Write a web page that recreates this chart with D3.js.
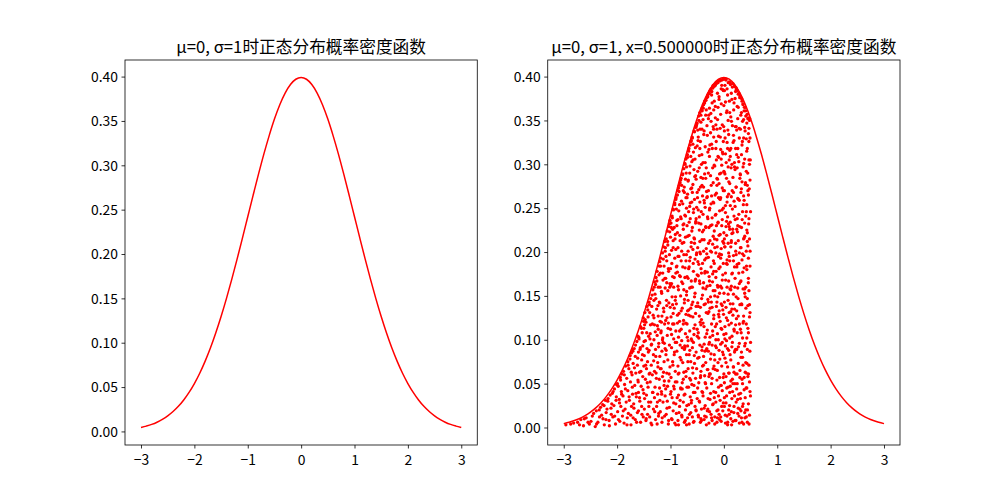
<!DOCTYPE html>
<html><head><meta charset="utf-8">
<script src="https://cdn.jsdelivr.net/npm/d3@7"></script>
<style>body{margin:0;background:#fff}text{font-family:"Noto Sans CJK SC","Noto Sans",sans-serif;fill:#000}</style>
</head><body><svg id="c" width="1000" height="500"></svg>
<script>
// ---- data ----
const curveX = [-3.0,-2.9,-2.8,-2.7,-2.6,-2.5,-2.4,-2.3,-2.2,-2.1,-2.0,-1.9,-1.8,-1.7,-1.6,-1.5,-1.4,-1.3,-1.2,-1.1,-1.0,-0.9,-0.8,-0.7,-0.6,-0.5,-0.4,-0.3,-0.2,-0.1,0.0,0.1,0.2,0.3,0.4,0.5,0.6,0.7,0.8,0.9,1.0,1.1,1.2,1.3,1.4,1.5,1.6,1.7,1.8,1.9,2.0,2.1,2.2,2.3,2.4,2.5,2.6,2.7,2.8,2.9,3.0];
const curveY = [0.0044,0.0060,0.0079,0.0104,0.0136,0.0175,0.0224,0.0283,0.0355,0.0440,0.0540,0.0656,0.0790,0.0940,0.1109,0.1295,0.1497,0.1714,0.1942,0.2179,0.2420,0.2661,0.2897,0.3123,0.3332,0.3521,0.3683,0.3814,0.3910,0.3970,0.3989,0.3970,0.3910,0.3814,0.3683,0.3521,0.3332,0.3123,0.2897,0.2661,0.2420,0.2179,0.1942,0.1714,0.1497,0.1295,0.1109,0.0940,0.0790,0.0656,0.0540,0.0440,0.0355,0.0283,0.0224,0.0175,0.0136,0.0104,0.0079,0.0060,0.0044];
const xTicks = [-3,-2,-1,0,1,2,3];
const yTicks = [0.00,0.05,0.10,0.15,0.20,0.25,0.30,0.35,0.40];
const yTickLabels = ["0.00","0.05","0.10","0.15","0.20","0.25","0.30","0.35","0.40"];
const titles = ["μ=0, σ=1时正态分布概率密度函数","μ=0, σ=1, x=0.500000时正态分布概率密度函数"];
const scatterPoints = [
[-2.96,.003],[-2.87,.004],[-2.74,.006],[-2.68,.009],[-2.63,.002],[-2.58,.011],[-2.52,.004],[-2.49,.007],[-2.44,.016],[-2.41,.001],
[-2.39,.019],[-2.36,.006],[-2.33,.012],[-2.31,.023],[-2.29,.014],[-2.27,.026],[-2.24,.003],[-2.22,.031],[-2.21,.009],
[-2.19,.021],[-2.17,.033],[-2.15,.008],[-2.13,.037],[-2.11,.015],[-2.10,.027],
[-2.09,.039],[-2.08,.012],[-2.06,.025],[-2.05,.044],[-2.03,.004],[-2.02,.031],[-2.01,.049],
[-1.99,.018],[-1.98,.047],[-1.96,.032],[-1.95,.007],[-1.94,.057],[-1.93,.024],[-1.92,.041],[-1.91,.061],[-1.90,.013],
[-1.89,.036],[-1.88,.064],[-1.87,.005],[-1.86,.049],[-1.85,.021],[-1.84,.070],[-1.83,.029],[-1.82,.056],[-1.81,.011],[-1.80,.075],
[-1.80,.042],[-1.79,.016],[-1.78,.067],[-1.77,.031],[-1.76,.078],[-1.75,.052],[-1.74,.003],[-1.73,.085],[-1.73,.024],[-1.72,.060],[-1.71,.038],[-1.71,.089],[-1.70,.011],
[-1.70,.073],[-1.69,.027],[-1.68,.090],[-1.67,.048],[-1.66,.009],[-1.66,.081],[-1.65,.062],[-1.64,.035],[-1.63,.098],[-1.62,.017],[-1.62,.071],[-1.61,.054],[-1.61,.104],[-1.60,.040],[-1.60,.086],
[-1.60,.019],[-1.59,.101],[-1.58,.063],[-1.58,.034],[-1.57,.089],[-1.56,.006],[-1.56,.115],[-1.55,.047],[-1.54,.077],[-1.54,.024],[-1.53,.108],[-1.52,.058],[-1.52,.093],[-1.51,.012],[-1.51,.125],[-1.50,.070],[-1.50,.039],
[-1.50,.113],[-1.49,.082],[-1.49,.021],[-1.48,.131],[-1.47,.055],[-1.47,.099],[-1.46,.008],[-1.46,.120],[-1.45,.067],[-1.45,.037],[-1.44,.138],[-1.44,.090],[-1.43,.015],[-1.43,.075],[-1.42,.126],[-1.42,.046],[-1.41,.104],[-1.41,.029],[-1.40,.143],[-1.40,.061],
[-1.40,.088],[-1.39,.012],[-1.39,.131],[-1.38,.052],[-1.38,.107],[-1.37,.029],[-1.37,.147],[-1.36,.071],[-1.36,.094],[-1.35,.003],[-1.35,.138],[-1.34,.060],[-1.34,.118],[-1.33,.040],[-1.33,.157],[-1.32,.083],[-1.32,.021],[-1.31,.145],[-1.31,.100],[-1.30,.064],[-1.30,.166],[-1.30,.034],[-1.31,.125],
[-1.30,.117],[-1.29,.046],[-1.29,.152],[-1.28,.009],[-1.28,.089],[-1.27,.171],[-1.27,.062],[-1.26,.135],[-1.26,.024],[-1.25,.105],[-1.25,.178],[-1.24,.074],[-1.24,.038],[-1.23,.160],[-1.23,.127],[-1.22,.016],[-1.22,.096],[-1.21,.184],[-1.21,.055],[-1.21,.143],[-1.20,.081],[-1.20,.031],[-1.20,.189],[-1.25,.004],[-1.28,.163],[-1.23,.112],
[-1.20,.142],[-1.19,.067],[-1.19,.176],[-1.19,.018],[-1.18,.108],[-1.18,.193],[-1.17,.041],[-1.17,.155],[-1.16,.087],[-1.16,.127],[-1.16,.006],[-1.15,.199],[-1.15,.058],[-1.14,.168],[-1.14,.097],[-1.14,.029],[-1.13,.136],[-1.13,.206],[-1.12,.075],[-1.12,.184],[-1.12,.048],[-1.11,.118],[-1.11,.212],[-1.11,.013],[-1.10,.159],[-1.10,.090],[-1.10,.036],[-1.13,.063],[-1.17,.120],[-1.15,.100],
[-1.10,.201],[-1.09,.122],[-1.09,.044],[-1.09,.170],[-1.08,.088],[-1.08,.215],[-1.08,.015],[-1.07,.139],[-1.07,.062],[-1.07,.190],[-1.06,.105],[-1.06,.224],[-1.06,.030],[-1.05,.156],[-1.05,.077],[-1.05,.208],[-1.04,.119],[-1.04,.004],[-1.04,.181],[-1.03,.053],[-1.03,.229],[-1.03,.142],[-1.02,.094],[-1.02,.023],[-1.02,.197],[-1.01,.164],[-1.01,.069],[-1.01,.236],[-1.00,.112],[-1.00,.038],[-1.00,.217],[-1.02,.232],[-1.07,.165],
[-1.00,.181],[-0.99,.057],[-0.99,.233],[-0.99,.126],[-0.98,.010],[-0.98,.202],[-0.98,.091],[-0.97,.149],[-0.97,.241],[-0.97,.034],[-0.96,.172],[-0.96,.075],[-0.96,.118],[-0.95,.249],[-0.95,.019],[-0.95,.213],[-0.94,.101],[-0.94,.160],[-0.94,.047],[-0.93,.228],[-0.93,.136],[-0.93,.083],[-0.92,.005],[-0.92,.193],[-0.92,.256],[-0.91,.064],[-0.91,.145],[-0.91,.220],[-0.90,.110],[-0.90,.027],[-0.90,.260],[-0.90,.176],[-0.96,.226],[-0.98,.164],[-0.93,.044],[-0.91,.097],[-0.95,.130],
[-0.90,.203],[-0.89,.141],[-0.89,.016],[-0.89,.249],[-0.88,.087],[-0.88,.184],[-0.88,.052],[-0.87,.265],[-0.87,.119],[-0.87,.222],[-0.86,.008],[-0.86,.161],[-0.86,.070],[-0.86,.237],[-0.85,.103],[-0.85,.273],[-0.85,.037],[-0.84,.195],[-0.84,.130],[-0.84,.062],[-0.83,.254],[-0.83,.173],[-0.83,.024],[-0.82,.094],[-0.82,.279],[-0.82,.213],[-0.81,.150],[-0.81,.045],[-0.81,.240],[-0.80,.112],[-0.80,.284],[-0.80,.077],[-0.80,.190],[-0.88,.230],[-0.85,.003],[-0.83,.121],[-0.87,.177],[-0.84,.269],[-0.82,.031],[-0.86,.205],
[-0.80,.238],[-0.79,.014],[-0.79,.166],[-0.79,.276],[-0.79,.099],[-0.78,.051],[-0.78,.210],[-0.78,.136],[-0.77,.289],[-0.77,.074],[-0.77,.183],[-0.77,.255],[-0.76,.029],[-0.76,.118],[-0.76,.226],[-0.75,.295],[-0.75,.157],[-0.75,.063],[-0.75,.197],[-0.74,.006],[-0.74,.268],[-0.74,.089],[-0.74,.142],[-0.73,.242],[-0.73,.038],[-0.73,.301],[-0.73,.171],[-0.72,.107],[-0.72,.217],[-0.72,.020],[-0.72,.283],[-0.71,.129],[-0.71,.058],[-0.71,.306],[-0.71,.190],[-0.70,.083],[-0.70,.250],[-0.70,.151],[-0.70,.003],[-0.76,.270],[-0.78,.044],[-0.73,.091],[-0.75,.232],[-0.71,.262],
[-0.70,.297],[-0.69,.118],[-0.69,.046],[-0.69,.230],[-0.69,.172],[-0.68,.011],[-0.68,.266],[-0.68,.093],[-0.68,.308],[-0.67,.145],[-0.67,.201],[-0.67,.067],[-0.67,.281],[-0.66,.026],[-0.66,.246],[-0.66,.128],[-0.66,.315],[-0.65,.183],[-0.65,.083],[-0.65,.219],[-0.65,.004],[-0.64,.159],[-0.64,.290],[-0.64,.056],[-0.64,.110],[-0.63,.322],[-0.63,.238],[-0.63,.035],[-0.63,.194],[-0.62,.136],[-0.62,.272],[-0.62,.075],[-0.62,.017],[-0.61,.327],[-0.61,.211],[-0.61,.101],[-0.61,.167],[-0.60,.257],[-0.60,.049],[-0.60,.303],[-0.60,.140],[-0.66,.181],[-0.64,.252],[-0.68,.133],[-0.62,.309],[-0.67,.099],[-0.61,.028],
[-0.60,.224],[-0.59,.091],[-0.59,.330],[-0.59,.160],[-0.59,.012],[-0.58,.277],[-0.58,.203],[-0.58,.062],[-0.58,.126],[-0.57,.314],[-0.57,.040],[-0.57,.245],[-0.57,.178],[-0.56,.106],[-0.56,.294],[-0.56,.007],[-0.56,.216],[-0.55,.337],[-0.55,.149],[-0.55,.073],[-0.55,.260],[-0.54,.192],[-0.54,.024],[-0.54,.117],[-0.54,.306],[-0.53,.233],[-0.53,.056],[-0.53,.342],[-0.53,.169],[-0.52,.086],[-0.52,.283],[-0.52,.138],[-0.52,.019],[-0.51,.251],[-0.51,.345],[-0.51,.199],[-0.51,.067],[-0.50,.112],[-0.50,.321],[-0.50,.033],[-0.50,.174],[-0.50,.268],[-0.57,.097],[-0.55,.210],[-0.53,.287],[-0.59,.268],[-0.58,.323],[-0.52,.238],[-0.54,.153],[-0.56,.048],
[-0.50,.347],[-0.49,.205],[-0.49,.079],[-0.49,.292],[-0.49,.142],[-0.48,.014],[-0.48,.248],[-0.48,.331],[-0.48,.108],[-0.47,.186],[-0.47,.051],[-0.47,.271],[-0.47,.355],[-0.46,.127],[-0.46,.225],[-0.46,.030],[-0.46,.310],[-0.45,.164],[-0.45,.094],[-0.45,.359],[-0.45,.257],[-0.44,.006],[-0.44,.198],[-0.44,.137],[-0.44,.326],[-0.43,.064],[-0.43,.285],[-0.43,.232],[-0.43,.117],[-0.42,.362],[-0.42,.021],[-0.42,.176],[-0.42,.300],[-0.41,.088],[-0.41,.214],[-0.41,.041],[-0.41,.340],[-0.40,.151],[-0.40,.264],[-0.40,.070],[-0.40,.365],[-0.47,.102],[-0.45,.318],[-0.43,.010],[-0.49,.339],[-0.46,.240],[-0.44,.057],[-0.42,.123],[-0.48,.173],[-0.41,.276],[-0.45,.200],[-0.43,.348],
[-0.40,.187],[-0.39,.036],[-0.39,.302],[-0.39,.119],[-0.39,.243],[-0.38,.368],[-0.38,.081],[-0.38,.165],[-0.38,.274],[-0.37,.009],[-0.37,.214],[-0.37,.338],[-0.37,.140],[-0.36,.059],[-0.36,.289],[-0.36,.191],[-0.36,.372],[-0.35,.103],[-0.35,.025],[-0.35,.251],[-0.35,.320],[-0.34,.158],[-0.34,.074],[-0.34,.229],[-0.34,.356],[-0.33,.012],[-0.33,.131],[-0.33,.296],[-0.33,.204],[-0.32,.376],[-0.32,.090],[-0.32,.045],[-0.32,.262],[-0.31,.177],[-0.31,.333],[-0.31,.111],[-0.31,.019],[-0.30,.238],[-0.30,.379],[-0.30,.146],[-0.30,.066],[-0.38,.225],[-0.36,.013],[-0.34,.284],[-0.32,.198],[-0.39,.351],[-0.37,.095],[-0.35,.178],[-0.33,.362],[-0.31,.263],[-0.37,.259],[-0.35,.051],[-0.33,.088],[-0.30,.314],
[-0.30,.021],[-0.29,.194],[-0.29,.352],[-0.29,.087],[-0.29,.270],[-0.28,.132],[-0.28,.005],[-0.28,.381],[-0.28,.228],[-0.27,.061],[-0.27,.309],[-0.27,.167],[-0.27,.248],[-0.26,.384],[-0.26,.103],[-0.26,.032],[-0.26,.213],[-0.25,.336],[-0.25,.149],[-0.25,.078],[-0.25,.287],[-0.24,.386],[-0.24,.183],[-0.24,.015],[-0.24,.255],[-0.23,.118],[-0.23,.050],[-0.23,.323],[-0.23,.200],[-0.22,.370],[-0.22,.137],[-0.22,.094],[-0.22,.239],[-0.21,.026],[-0.21,.296],[-0.21,.175],[-0.21,.388],[-0.20,.067],[-0.20,.218],[-0.20,.343],[-0.20,.156],[-0.29,.143],[-0.27,.364],[-0.25,.039],[-0.23,.264],[-0.21,.110],[-0.28,.317],[-0.26,.162],[-0.24,.349],[-0.22,.008],[-0.20,.279],[-0.27,.097],[-0.25,.230],[-0.23,.379],[-0.28,.058],[-0.21,.209],
[-0.20,.390],[-0.19,.124],[-0.19,.256],[-0.19,.041],[-0.19,.331],[-0.18,.187],[-0.18,.083],[-0.18,.372],[-0.18,.224],[-0.17,.012],[-0.17,.298],[-0.17,.150],[-0.17,.391],[-0.16,.066],[-0.16,.242],[-0.16,.115],[-0.16,.353],[-0.15,.199],[-0.15,.029],[-0.15,.318],[-0.15,.171],[-0.14,.393],[-0.14,.091],[-0.14,.267],[-0.14,.138],[-0.13,.006],[-0.13,.214],[-0.13,.340],[-0.13,.054],[-0.12,.283],[-0.12,.162],[-0.12,.107],[-0.12,.381],[-0.11,.020],[-0.11,.233],[-0.11,.309],[-0.11,.074],[-0.10,.195],[-0.10,.395],[-0.10,.129],[-0.10,.046],[-0.19,.362],[-0.17,.205],[-0.15,.100],[-0.13,.276],[-0.11,.160],[-0.18,.034],[-0.16,.390],[-0.14,.230],[-0.12,.011],[-0.10,.262],[-0.17,.077],[-0.15,.345],[-0.13,.143],[-0.11,.365],[-0.19,.178],[-0.14,.305],
[-0.10,.332],[-0.09,.088],[-0.09,.219],[-0.09,.015],[-0.09,.374],[-0.08,.153],[-0.08,.289],[-0.08,.057],[-0.08,.247],[-0.07,.396],[-0.07,.121],[-0.07,.183],[-0.07,.031],[-0.06,.317],[-0.06,.095],[-0.06,.262],[-0.06,.357],[-0.05,.007],[-0.05,.204],[-0.05,.141],[-0.05,.386],[-0.04,.070],[-0.04,.299],[-0.04,.230],[-0.04,.112],[-0.03,.042],[-0.03,.345],[-0.03,.168],[-0.03,.273],[-0.02,.397],[-0.02,.134],[-0.02,.019],[-0.02,.212],[-0.01,.083],[-0.01,.326],[-0.01,.250],[-0.01,.187],[0.00,.061],[0.00,.367],[0.00,.106],[0.00,.292],[-0.09,.278],[-0.07,.341],[-0.05,.048],[-0.03,.237],[-0.01,.384],[-0.08,.198],[-0.06,.012],[-0.04,.159],[-0.02,.312],[0.00,.222],[-0.09,.126],[-0.07,.260],[-0.05,.306],[-0.03,.097],[-0.01,.028],[-0.06,.193],[-0.04,.390],
[0.00,.397],[0.01,.143],[0.01,.024],[0.01,.270],[0.01,.338],[0.02,.079],[0.02,.206],[0.02,.390],[0.02,.115],[0.03,.005],[0.03,.253],[0.03,.176],[0.03,.312],[0.04,.058],[0.04,.396],[0.04,.137],[0.04,.229],[0.05,.284],[0.05,.036],[0.05,.359],[0.05,.099],[0.06,.191],[0.06,.013],[0.06,.325],[0.06,.160],[0.07,.240],[0.07,.069],[0.07,.379],[0.07,.122],[0.08,.297],[0.08,.046],[0.08,.210],[0.08,.350],[0.09,.088],[0.09,.167],[0.09,.020],[0.09,.266],[0.10,.394],[0.10,.131],[0.10,.229],[0.10,.062],[0.01,.215],[0.03,.371],[0.05,.187],[0.07,.003],[0.09,.334],[0.02,.289],[0.04,.107],[0.06,.257],[0.08,.152],[0.10,.305],[0.01,.051],[0.03,.093],[0.05,.235],[0.07,.318],[0.09,.199],[0.04,.028],[0.06,.386],
[0.10,.015],[0.11,.278],[0.11,.102],[0.11,.359],[0.11,.190],[0.12,.047],[0.12,.234],[0.12,.393],[0.12,.141],[0.13,.318],[0.13,.077],[0.13,.206],[0.13,.010],[0.14,.263],[0.14,.161],[0.14,.381],[0.14,.119],[0.15,.033],[0.15,.300],[0.15,.221],[0.15,.092],[0.16,.344],[0.16,.176],[0.16,.055],[0.16,.249],[0.17,.128],[0.17,.392],[0.17,.007],[0.17,.285],[0.18,.196],[0.18,.069],[0.18,.333],[0.18,.152],[0.19,.241],[0.19,.024],[0.19,.370],[0.19,.112],[0.20,.297],[0.20,.183],[0.20,.086],[0.20,.389],[0.11,.040],[0.13,.157],[0.15,.374],[0.17,.222],[0.19,.063],[0.12,.309],[0.14,.213],[0.16,.097],[0.18,.268],[0.20,.036],[0.11,.226],[0.13,.354],[0.15,.135],[0.17,.050],[0.19,.327],[0.14,.018],
[0.20,.135],[0.21,.252],[0.21,.008],[0.21,.375],[0.21,.170],[0.22,.061],[0.22,.318],[0.22,.210],[0.22,.117],[0.23,.387],[0.23,.029],[0.23,.274],[0.23,.149],[0.24,.089],[0.24,.339],[0.24,.226],[0.24,.044],[0.25,.186],[0.25,.296],[0.25,.384],[0.25,.108],[0.26,.016],[0.26,.261],[0.26,.159],[0.26,.352],[0.27,.073],[0.27,.213],[0.27,.127],[0.27,.308],[0.28,.381],[0.28,.038],[0.28,.243],[0.28,.176],[0.29,.096],[0.29,.330],[0.29,.005],[0.29,.199],[0.30,.284],[0.30,.378],[0.30,.140],[0.30,.057],[0.21,.294],[0.23,.197],[0.25,.050],[0.27,.365],[0.29,.259],[0.22,.383],[0.24,.133],[0.26,.230],[0.28,.303],[0.30,.021],[0.21,.088],[0.23,.343],[0.25,.238],[0.27,.022],[0.29,.164],
[0.31,.205],[0.31,.112],[0.31,.340],[0.31,.033],[0.32,.268],[0.32,.167],[0.32,.376],[0.32,.080],[0.33,.011],[0.33,.228],[0.33,.311],[0.33,.141],[0.34,.372],[0.34,.055],[0.34,.191],[0.34,.280],[0.35,.102],[0.35,.349],[0.35,.024],[0.35,.246],[0.36,.158],[0.36,.071],[0.36,.368],[0.36,.297],[0.37,.215],[0.37,.004],[0.37,.127],[0.37,.330],[0.38,.043],[0.38,.259],[0.38,.182],[0.38,.361],[0.39,.093],[0.39,.306],[0.39,.017],[0.39,.233],[0.40,.149],[0.40,.365],[0.40,.063],[0.40,.277],[0.31,.288],[0.33,.086],[0.35,.198],[0.37,.264],[0.39,.153],[0.32,.019],[0.34,.322],[0.36,.119],[0.38,.216],[0.40,.034],[0.33,.359],[0.35,.050],[0.37,.351],[0.39,.342],
[0.41,.241],[0.41,.074],[0.41,.355],[0.41,.160],[0.42,.012],[0.42,.292],[0.42,.201],[0.42,.118],[0.43,.347],[0.43,.045],[0.43,.254],[0.43,.180],[0.44,.089],[0.44,.318],[0.44,.006],[0.44,.222],[0.45,.139],[0.45,.352],[0.45,.058],[0.45,.270],[0.46,.193],[0.46,.027],[0.46,.335],[0.46,.108],[0.47,.238],[0.47,.156],[0.47,.305],[0.47,.071],[0.48,.350],[0.48,.014],[0.48,.215],[0.48,.126],[0.49,.282],[0.49,.041],[0.49,.184],[0.49,.330],[0.50,.097],[0.50,.246],[0.42,.329],[0.44,.147],[0.46,.265],[0.48,.052],[0.41,.020],[0.43,.102],[0.45,.207],[0.47,.341],[0.49,.131],[0.42,.062],[0.44,.276],[0.46,.170],[0.48,.300],[0.43,.225],
[-2.815,.005],[-2.705,.003],[-2.615,.010],[-2.545,.006],[-2.465,.013],[-2.385,.004],[-2.335,.020],[-2.265,.010],
[-2.245,.025],[-2.205,.017],[-2.175,.030],[-2.145,.002],[-2.115,.022],[-2.075,.041],[-2.045,.013],[-2.015,.035],
[-1.995,.050],[-1.975,.009],[-1.955,.028],[-1.935,.054],[-1.915,.038],[-1.885,.019],[-1.865,.060],[-1.845,.044],[-1.815,.003],[-1.795,.071],[-1.775,.035],[-1.755,.082],
[-1.745,.014],[-1.735,.063],[-1.715,.046],[-1.705,.087],[-1.685,.022],[-1.675,.068],[-1.655,.094],[-1.645,.039],[-1.635,.006],[-1.615,.079],[-1.605,.052],[-1.595,.103],[-1.575,.030],[-1.565,.091],[-1.555,.064],[-1.545,.113],[-1.535,.015],[-1.525,.083],[-1.515,.043],[-1.505,.121],
[-1.495,.098],[-1.485,.033],[-1.475,.123],[-1.465,.071],[-1.455,.010],[-1.445,.108],[-1.435,.051],[-1.425,.134],[-1.415,.086],[-1.405,.024],[-1.395,.140],[-1.385,.062],[-1.375,.117],[-1.365,.005],[-1.355,.095],[-1.345,.151],[-1.335,.040],[-1.325,.128],[-1.315,.076],[-1.305,.160],[-1.295,.018],[-1.285,.109],[-1.275,.147],[-1.265,.056],[-1.255,.167],[-1.485,.117],[-1.385,.101],[-1.275,.081],
[-1.245,.029],[-1.235,.139],[-1.225,.092],[-1.215,.174],[-1.205,.045],[-1.195,.121],[-1.185,.184],[-1.175,.067],[-1.165,.153],[-1.155,.011],[-1.145,.102],[-1.135,.192],[-1.125,.132],[-1.115,.053],[-1.105,.170],[-1.095,.205],[-1.085,.083],[-1.075,.145],[-1.065,.022],[-1.055,.212],[-1.045,.113],[-1.035,.178],[-1.025,.061],[-1.015,.223],[-1.005,.137],[-1.245,.116],[-1.225,.013],[-1.195,.160],[-1.165,.038],[-1.145,.176],[-1.115,.096],[-1.085,.195],[-1.065,.125],[-1.035,.008],[-1.015,.160],[-1.235,.069],[-1.175,.110],[-1.055,.047],
[-0.995,.162],[-0.99,.041],[-0.985,.228],[-0.98,.106],[-0.975,.187],[-0.97,.009],[-0.965,.239],[-0.96,.140],[-0.955,.071],[-0.95,.205],[-0.945,.248],[-0.94,.028],[-0.935,.118],[-0.93,.171],[-0.925,.086],[-0.92,.254],[-0.915,.215],[-0.91,.052],[-0.905,.149],[-0.90,.003],[-0.895,.262],[-0.89,.183],[-0.885,.097],[-0.88,.236],[-0.875,.034],[-0.87,.128],[-0.865,.270],[-0.86,.195],[-0.855,.061],[-0.85,.157],[-0.845,.247],[-0.84,.017],[-0.835,.276],[-0.83,.110],[-0.825,.219],[-0.82,.080],[-0.815,.172],[-0.81,.282],[-0.805,.044],[-0.80,.133],[-0.795,.258],[-0.79,.201],[-0.785,.012],[-0.78,.091],[-0.775,.288],[-0.77,.164],[-0.765,.231],[-0.76,.055],[-0.755,.122],
[-0.75,.211],[-0.746,.037],[-0.742,.274],[-0.738,.146],[-0.734,.093],[-0.730,.300],[-0.726,.182],[-0.722,.008],[-0.718,.241],[-0.714,.119],[-0.710,.064],[-0.706,.290],[-0.702,.197],[-0.698,.155],[-0.694,.025],[-0.690,.262],[-0.686,.103],[-0.682,.311],[-0.678,.218],[-0.674,.075],[-0.670,.170],[-0.666,.282],[-0.662,.046],[-0.658,.134],[-0.654,.318],[-0.650,.234],[-0.646,.015],[-0.642,.190],[-0.638,.088],[-0.634,.298],[-0.630,.256],[-0.626,.127],[-0.622,.054],[-0.618,.326],[-0.614,.206],[-0.610,.160],[-0.606,.031],[-0.602,.273],[-0.598,.099],[-0.594,.331],[-0.590,.228],[-0.586,.068],[-0.582,.143],[-0.578,.305],[-0.574,.187],[-0.570,.006],[-0.566,.249],[-0.562,.113],[-0.558,.338],[-0.554,.082],[-0.550,.215],[-0.546,.286],[-0.542,.040],[-0.538,.167],[-0.534,.319],[-0.530,.130],[-0.526,.235],[-0.522,.020],[-0.518,.343],[-0.514,.197],
[-0.498,.104],[-0.494,.262],[-0.491,.045],[-0.487,.189],[-0.483,.327],[-0.479,.138],[-0.476,.012],[-0.472,.233],[-0.468,.350],[-0.465,.080],[-0.461,.296],[-0.457,.167],[-0.454,.029],[-0.450,.212],[-0.446,.340],[-0.443,.120],[-0.439,.274],[-0.435,.059],[-0.431,.356],[-0.428,.181],[-0.424,.246],[-0.420,.008],[-0.417,.147],[-0.413,.311],[-0.409,.092],[-0.406,.361],[-0.402,.223],[-0.398,.040],[-0.394,.284],[-0.391,.159],[-0.387,.364],[-0.383,.071],[-0.380,.201],[-0.376,.334],[-0.372,.115],[-0.369,.022],[-0.365,.256],[-0.361,.370],[-0.358,.176],[-0.354,.087],[-0.350,.302],[-0.346,.141],[-0.343,.050],[-0.339,.228],[-0.335,.373],[-0.332,.193],[-0.328,.003],[-0.324,.269],[-0.321,.107],[-0.317,.344],[-0.313,.161],[-0.310,.066],[-0.306,.240],[-0.302,.377],[-0.299,.130],[-0.295,.033],[-0.291,.290],[-0.287,.210],[-0.284,.356],[-0.280,.095],[-0.276,.172],[-0.273,.381],[-0.269,.018],[-0.265,.250],[-0.262,.322],[-0.258,.136],[-0.254,.061],
[-0.248,.201],[-0.244,.358],[-0.241,.084],[-0.237,.276],[-0.234,.143],[-0.230,.011],[-0.227,.383],[-0.223,.231],[-0.220,.056],[-0.216,.318],[-0.213,.166],[-0.209,.105],[-0.206,.387],[-0.202,.257],[-0.199,.027],[-0.195,.190],[-0.192,.340],[-0.188,.128],[-0.185,.070],[-0.181,.299],[-0.178,.389],[-0.174,.215],[-0.171,.004],[-0.167,.156],[-0.164,.265],[-0.160,.366],[-0.157,.093],[-0.153,.040],[-0.150,.243],[-0.146,.178],[-0.143,.326],[-0.139,.392],[-0.136,.118],[-0.132,.019],[-0.129,.284],[-0.125,.206],[-0.122,.065],[-0.118,.351],[-0.115,.149],[-0.111,.393],[-0.108,.234],[-0.104,.100],[-0.101,.036],[-0.097,.308],[-0.094,.181],[-0.090,.377],[-0.087,.133],[-0.083,.261],[-0.080,.009],[-0.076,.078],[-0.073,.395],[-0.069,.220],[-0.066,.331],[-0.062,.161],[-0.059,.048],[-0.055,.290],[-0.052,.113],[-0.048,.369],[-0.045,.197],[-0.041,.024],[-0.038,.396],[-0.034,.248],[-0.031,.139],[-0.027,.314],[-0.024,.086],[-0.020,.174],[-0.017,.385],[-0.013,.057],[-0.010,.270],[-0.006,.129],[-0.003,.343],[-0.001,.210],
[0.002,.153],[0.005,.291],[0.009,.034],[0.012,.384],[0.016,.206],[0.019,.101],[0.023,.330],[0.026,.014],[0.030,.245],[0.033,.168],[0.037,.397],[0.040,.074],[0.044,.302],[0.047,.125],[0.051,.219],[0.054,.045],[0.058,.361],[0.061,.186],[0.065,.263],[0.068,.090],[0.072,.006],[0.075,.339],[0.079,.145],[0.082,.393],[0.086,.232],[0.089,.062],[0.093,.280],[0.096,.117],[0.100,.195],[0.103,.372],[0.107,.025],[0.110,.316],[0.114,.158],[0.117,.083],[0.121,.253],[0.124,.391],[0.128,.132],[0.131,.053],[0.135,.296],[0.138,.211],[0.142,.349],[0.145,.003],[0.149,.175],[0.152,.104],[0.156,.270],[0.159,.388],[0.163,.041],[0.166,.226],[0.170,.141],[0.173,.325],[0.177,.069],[0.180,.190],[0.184,.362],[0.187,.017],[0.191,.258],[0.194,.110],[0.198,.302],[0.201,.389],[0.205,.160],[0.208,.050],[0.212,.237],[0.215,.343],[0.219,.089],[0.222,.201],[0.226,.008],[0.229,.274],[0.233,.385],[0.236,.124],[0.240,.311],[0.243,.183],[0.247,.061],[0.250,.366],
[0.254,.223],[0.258,.032],[0.261,.318],[0.265,.147],[0.269,.380],[0.272,.092],[0.276,.260],[0.280,.187],[0.284,.013],[0.287,.341],[0.291,.118],[0.295,.229],[0.298,.376],[0.302,.065],[0.306,.289],[0.310,.166],[0.313,.039],[0.317,.356],[0.321,.205],[0.324,.108],[0.328,.272],[0.332,.375],[0.336,.140],[0.339,.006],[0.343,.237],[0.347,.326],[0.350,.080],[0.354,.177],[0.358,.369],[0.361,.027],[0.365,.254],[0.369,.121],[0.372,.301],[0.376,.196],[0.380,.057],[0.384,.365],[0.387,.158],[0.391,.218],[0.395,.011],[0.398,.338],[0.402,.096],[0.406,.279],[0.410,.361],[0.413,.136],[0.417,.045],[0.421,.246],[0.424,.184],[0.428,.315],[0.432,.073],[0.436,.357],[0.439,.212],[0.443,.020],[0.447,.290],[0.450,.113],[0.454,.353],[0.458,.165],[0.461,.061],[0.465,.232],[0.469,.326],[0.472,.004],[0.476,.272],[0.480,.140],[0.484,.352],[0.487,.087],[0.491,.201],[0.495,.305],[0.498,.036]
];

// ---- drawing ----
const svg = d3.select("#c");
const plotTop = 60, plotBottom = 445;
const axW = 352.27;
const panels = [
  {x0: 125, yDom: [-0.0153, 0.4187], title: titles[0], scatter: false},
  {x0: 547.73, yDom: [-0.01995, 0.4189], title: titles[1], scatter: true}
];
const red = "#ff0000";
panels.forEach(p => {
  const x = d3.scaleLinear().domain([-3.3, 3.3]).range([p.x0, p.x0 + axW]);
  const y = d3.scaleLinear().domain(p.yDom).range([plotBottom, plotTop]);
  const g = svg.append("g");
  const line = d3.line().x((d,i)=>x(curveX[i])).y((d,i)=>y(curveY[i])).curve(d3.curveMonotoneX);
  if (p.scatter) {
    g.append("g").selectAll("circle").data(scatterPoints).join("circle")
      .attr("cx", d => x(d[0])).attr("cy", d => y(d[1])).attr("r", 1.65).attr("fill", red);
  }
  g.append("path").datum(curveY).attr("d", line).attr("fill","none").attr("stroke", red).attr("stroke-width", 1.5);
  const xa = d3.axisBottom(x).tickValues(xTicks).tickSize(3.5).tickPadding(3.5).tickFormat(d3.format("d"));
  const ya = d3.axisLeft(y).tickValues(yTicks).tickSize(3.5).tickPadding(3.5).tickFormat((d,i)=>yTickLabels[i]);
  const gx = g.append("g").attr("transform", `translate(0,${plotBottom})`).call(xa);
  const gy = g.append("g").attr("transform", `translate(${p.x0},0)`).call(ya);
  [gx, gy].forEach(a => {
    a.select(".domain").remove();
    a.selectAll("line").attr("stroke","#000").attr("stroke-width",0.8);
    a.selectAll("text").attr("font-size", 13.9).attr("fill","#000")
      .style("font-family", '"Noto Sans CJK SC","Noto Sans",sans-serif');
  });
  gx.selectAll("text").attr("dy", null).attr("y", 20);
  gy.selectAll("text").attr("dy", "0.34em");
  g.append("rect").attr("x", p.x0).attr("y", plotTop).attr("width", axW).attr("height", plotBottom - plotTop)
    .attr("fill","none").attr("stroke","#000").attr("stroke-width",0.8);
  g.append("text").attr("x", p.x0 + axW/2).attr("y", 53).attr("text-anchor","middle")
    .attr("font-size", 16.7).text(p.title);
});
</script></body></html>
